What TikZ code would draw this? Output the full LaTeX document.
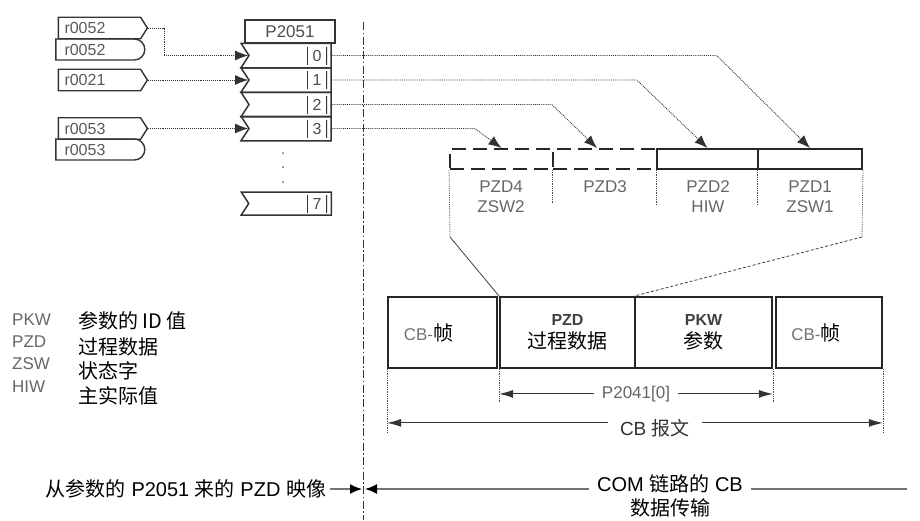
\documentclass[tikz,border=0pt]{standalone}
\usepackage{fontspec}
\setmainfont{Liberation Sans}
\newfontfamily\cjk{Noto Sans CJK SC}
\usetikzlibrary{arrows.meta,shapes.symbols,shapes.misc}

\newcommand{\zh}[1]{{\cjk #1}}
\newcommand{\fsz}[1]{\fontsize{#1}{#1}\selectfont}

\begin{document}
\begin{tikzpicture}[
    x=1pt,
    y=-1pt,
    every node/.style={inner sep=0pt, font=\fsz{15}},
    srcbox/.style={signal, signal to=east, signal pointer angle=115, draw=black!80, line width=1.4pt, minimum width=89, minimum height=21.5, text width=70, align=left, text=black!65, font=\fsz{16}},
    srcend/.style={rounded rectangle, rounded rectangle left arc=none, draw=black!80, line width=1.4pt, minimum width=89, minimum height=21, text width=70, align=left, text=black!65, font=\fsz{16}},
    hdrbox/.style={draw=black!80, line width=1.5pt, minimum width=90, minimum height=23, font=\fsz{17}, text=black!70},
    slot/.style={signal, signal from=west, signal to=nowhere, signal pointer angle=114, draw=black!80, line width=1.5pt, minimum width=90, minimum height=24.5},
    idxcell/.style={minimum width=20, minimum height=18, text=black!70, font=\fsz{16}, path picture={\draw[black!80, line width=2pt] (path picture bounding box.north west) -- (path picture bounding box.south west) (path picture bounding box.north east) -- (path picture bounding box.south east);}},
    sig/.style={densely dotted, line width=0.9pt, black!80},
    tip/.style={-{Latex[length=13pt, width=10pt]}},
    pzdcell/.style={draw=black!85, line width=1.9pt, minimum height=20},
    pzdspare/.style={pzdcell, dash pattern=on 14pt off 7pt},
    pzdlbl/.style={font=\fontsize{17}{20}\selectfont, text=black!60, align=center},
    splitline/.style={densely dotted, line width=0.8pt, black!70},
    fanline/.style={line width=0.8pt, black!75},
    framebox/.style={draw=black!85, line width=1.8pt, minimum height=71, align=center, font=\fontsize{20}{23}\selectfont},
    dimline/.style={line width=1.1pt, black!80, {Latex[length=14pt, width=8pt]}-{Latex[length=14pt, width=8pt]}},
    dimlbl/.style={fill=white, inner xsep=8pt, inner ysep=2pt, font=\fsz{17}, text=black!60},
    sepline/.style={line width=0.9pt, black!80, dash pattern=on 8pt off 2.5pt on 1.5pt off 2.5pt},
    botline/.style={line width=1.6pt, black!55},
    bottip/.style={-{Latex[length=12pt, width=10pt, color=black]}},
    legabbr/.style={anchor=west, font=\fsz{17}, text=black!60},
    legtxt/.style={anchor=west, font=\fsz{20}\cjk}
]
    \useasboundingbox (0,0) rectangle (920,520);

    % signal sources
    \node[srcbox] (r52a) at (99.5,28) {r0052};
    \node[srcend] (r52b) at (99.5,49.5) {r0052};
    \node[srcbox] (r21) at (99.5,80) {r0021};
    \node[srcbox] (r53a) at (99.5,128.5) {r0053};
    \node[srcend] (r53b) at (99.5,149.5) {r0053};

    % P2051 connector
    \node[hdrbox] (hdr) at (290,31.5) {P2051};
    \node[slot] (slot0) at (290,55.5) {};
    \node[slot] (slot1) at (290,80) {};
    \node[slot] (slot2) at (290,104.5) {};
    \node[slot] (slot3) at (290,128.5) {};
    \node[slot, minimum height=23] (slot7) at (290,203.5) {};
    \foreach \i/\y in {0/55.5, 1/80, 2/104.5, 3/128.5, 7/203.5}
        \node[idxcell] (idx\i) at (317,\y) {\i};
    \foreach \y in {153,167,182}
        \fill[black!60] (283,\y) circle (1);

    \draw[sig, tip] (r52a.east) -- ++(16,0) |- (slot0.west);
    \draw[sig, tip] (r21.east) -- (slot1.west);
    \draw[sig, tip] (r53a.east) -- (slot3.west);

    % separator
    \coordinate (septop) at (363,22);
    \coordinate (sepbot) at (363,520);
    \draw[sepline] (septop) -- (sepbot);

    % PZD words
    \node[pzdspare, minimum width=103] (pzd4) at (501.5,159) {};
    \node[pzdspare, minimum width=104] (pzd3) at (605,159) {};
    \node[pzdcell, minimum width=101] (pzd2) at (707.5,159) {};
    \node[pzdcell, minimum width=104] (pzd1) at (810,159) {};

    \draw[sig, tip] (slot0.east) -- ++(385,0) -- (pzd1.north);
    \draw[sig, tip] (slot1.east) -- ++(305,0) -- (pzd2.north);
    \draw[sig, tip] (slot2.east) -- ++(220,0) -- ([xshift=-8pt]pzd3.north);
    \draw[sig, tip] (slot3.east) -- ++(143,0) -- (pzd4.north);

    \node[pzdlbl] (l4) at (501,197) {PZD4\\ZSW2};
    \node[pzdlbl] (l3) at (605,187) {PZD3};
    \node[pzdlbl] (l2) at (708,197) {PZD2\\HIW};
    \node[pzdlbl] (l1) at (810,197) {PZD1\\ZSW1};

    % telegram frame
    \node[framebox, minimum width=109] (cbl) at (442.5,332.5) {{\fsz{17}\color{black!55}CB-}\zh{帧}\hspace*{28pt}};
    \node[framebox, minimum width=135] (pzdf) at (567.5,332.5) {{\fsz{16}\bfseries\color{black!75}PZD}\\\zh{过程数据}};
    \node[framebox, minimum width=137] (pkwf) at (703.5,332.5) {{\fsz{16}\bfseries\color{black!75}PKW}\\\zh{参数}};
    \node[framebox, minimum width=106] (cbr) at (829,332.5) {{\fsz{17}\color{black!55}CB-}\zh{帧}\hspace*{26pt}};

    \coordinate (bendl) at (450,237);
    \coordinate (bendr) at (862,237);
    \draw[splitline] (pzd4.south west) -- (bendl);
    \draw[fanline] (bendl) -- (pzdf.north west);
    \draw[splitline] (pzd1.south east) -- (bendr);
    \draw[fanline, densely dashed] (bendr) -- (pkwf.north west);
    \draw[splitline] (pzd3.south west) -- ++(0,34);
    \draw[splitline] (pzd2.south west) -- ++(0,36);
    \draw[splitline] (pzd1.south west) -- ++(0,36);

    % dimensions
    \draw[splitline] (pzdf.south west) -- ([yshift=-34pt]pzdf.south west);
    \draw[splitline] (pkwf.south east) -- ([yshift=-34pt]pkwf.south east);
    \draw[dimline] ([yshift=-25pt]pzdf.south west) -- node[dimlbl] {P2041[0]} ([yshift=-25pt]pkwf.south east);
    \draw[splitline] (cbl.south west) -- ([yshift=-64pt]cbl.south west);
    \draw[splitline] (cbr.south east) -- ([yshift=-64pt]cbr.south east);
    \draw[dimline] ([yshift=-54pt]cbl.south west) -- node[pos=0.54, fill=white, inner xsep=12pt, inner ysep=2pt, yshift=-5pt, font=\fsz{19}] {CB \zh{报文}} ([yshift=-54pt]cbr.south east);

    % legend
    \node[legabbr] (ab1) at (12,320) {PKW};
    \node[legabbr] (ab2) at (12,342) {PZD};
    \node[legabbr] (ab3) at (12,364) {ZSW};
    \node[legabbr] (ab4) at (12,387) {HIW};
    \node[legtxt] (tx1) at (78,321) {参数的 ID 值};
    \node[legtxt] (tx2) at (78,347) {过程数据};
    \node[legtxt] (tx3) at (78,371) {状态字};
    \node[legtxt] (tx4) at (78,396) {主实际值};

    % bottom
    \node[font=\fsz{20}] (imgsrc) at (186,489) {\zh{从参数的} P2051 \zh{来的} PZD \zh{映像}};
    \node[font=\fontsize{20}{24}\selectfont, align=center] (comtx) at (670,496) {COM \zh{链路的} CB\\\zh{数据传输}};
    \coordinate (rend) at (907,489);
    \draw[botline, bottip] ([xshift=4pt]imgsrc.east) -- ([xshift=-1pt]sepbot |- imgsrc.east);
    \draw[botline, bottip] ([xshift=-8pt]comtx.west |- imgsrc.east) -- ([xshift=2pt]sepbot |- imgsrc.east);
    \draw[botline] ([xshift=8pt]comtx.east |- imgsrc.east) -- (rend);
\end{tikzpicture}
\end{document}
